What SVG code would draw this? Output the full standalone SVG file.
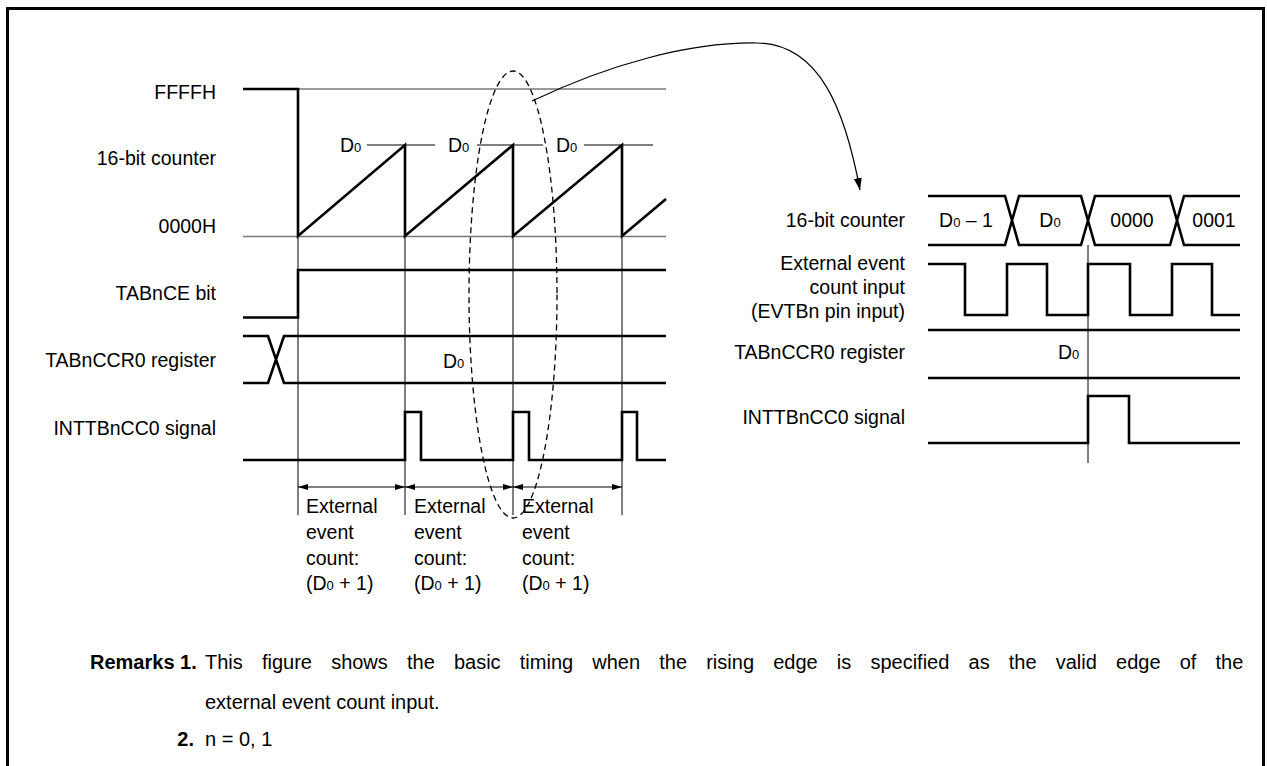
<svg xmlns="http://www.w3.org/2000/svg" width="1267" height="766" viewBox="0 0 1267 766">
<style>
text{font-family:"Liberation Sans",Arial,Helvetica,sans-serif;font-size:19.5px;fill:#000}
.lbl{text-anchor:end}
.sub{font-size:13px}
.sig{fill:none;stroke:#000;stroke-width:2.6;stroke-linejoin:miter}
.thin{fill:none;stroke:#000;stroke-width:1}
.gray{fill:none;stroke:#777;stroke-width:1.5}
.dash{fill:none;stroke:#000;stroke-width:1.3;stroke-dasharray:6 4}
.dim{fill:none;stroke:#000;stroke-width:1;marker-start:url(#ah);marker-end:url(#ah)}
.rm{font-size:20px}
.b{font-weight:bold}
</style>
<defs>
<marker id="ah" viewBox="0 0 10 6" refX="10" refY="3" markerWidth="10" markerHeight="6" markerUnits="userSpaceOnUse" orient="auto-start-reverse">
<path d="M0,0 L10,3 L0,6 Z" fill="#000"/>
</marker>
<marker id="ah2" viewBox="0 0 12 8" refX="12" refY="4" markerWidth="12" markerHeight="8" markerUnits="userSpaceOnUse" orient="auto">
<path d="M0,0 L12,4 L0,8 Z" fill="#000"/>
</marker>
</defs>
<rect width="1267" height="766" fill="#fff"/>
<path d="M7.5,766 V8.5 H1263.5 V766" fill="none" stroke="#000" stroke-width="3"/>

<g id="left-labels">
<text class="lbl" x="216" y="99">FFFFH</text>
<text class="lbl" x="216" y="165">16-bit counter</text>
<text class="lbl" x="216" y="233">0000H</text>
<text class="lbl" x="216" y="300">TABnCE bit</text>
<text class="lbl" x="216" y="367">TABnCCR0 register</text>
<text class="lbl" x="216" y="435">INTTBnCC0 signal</text>
</g>

<g id="left-grid">
<path class="gray" d="M298,89 H666 M243,236.5 H666"/>
<path class="thin" d="M367,145 H435 M477,145 H543 M584,145 H653"/>
<path class="thin" d="M298,236 V515 M405,236 V515 M513,236 V515 M622,236 V515"/>
</g>

<g id="counter-left">
<path class="sig" d="M243,89 H298 V236 L405,145 V236 L513,145 V236 L622,145 V236 L666,199"/>
<text x="340" y="152">D<tspan class="sub">0</tspan></text>
<text x="448" y="152">D<tspan class="sub">0</tspan></text>
<text x="556" y="152">D<tspan class="sub">0</tspan></text>
</g>

<g id="tabce-left">
<path class="sig" d="M243,317.5 H298 V270 H666"/>
</g>

<g id="tabccr0-left">
<path class="sig" d="M243,336 H268 L284,383 H666 M243,383 H268 L284,336 H666"/>
<text x="443" y="368">D<tspan class="sub">0</tspan></text>
</g>

<g id="inttb-left">
<path class="sig" d="M243,460 H405 V412 H421 V460 H513 V412 H529 V460 H622 V412 H637 V460 H666"/>
</g>

<g id="dimensions">
<path class="dim" d="M298,487 H405"/>
<path class="dim" d="M405,487 H513"/>
<path class="dim" d="M513,487 H622"/>
<text x="306" y="513">External</text>
<text x="306" y="539">event</text>
<text x="306" y="565">count:</text>
<text x="306" y="590">(D<tspan class="sub">0</tspan> + 1)</text>
<text x="414" y="513">External</text>
<text x="414" y="539">event</text>
<text x="414" y="565">count:</text>
<text x="414" y="590">(D<tspan class="sub">0</tspan> + 1)</text>
<text x="522" y="513">External</text>
<text x="522" y="539">event</text>
<text x="522" y="565">count:</text>
<text x="522" y="590">(D<tspan class="sub">0</tspan> + 1)</text>
</g>

<g id="connectors">
<ellipse class="dash" cx="513" cy="294.5" rx="44" ry="223.5"/>
<path d="M532,101 C610,64 690,42 757,43 C820,44 845,110 860,190" fill="none" stroke="#000" stroke-width="1.2" marker-end="url(#ah2)"/>
</g>

<g id="right-labels">
<text class="lbl" x="905" y="227">16-bit counter</text>
<text class="lbl" x="905" y="270">External event</text>
<text class="lbl" x="905" y="294">count input</text>
<text class="lbl" x="905" y="318">(EVTBn pin input)</text>
<text class="lbl" x="905" y="359">TABnCCR0 register</text>
<text class="lbl" x="905" y="424">INTTBnCC0 signal</text>
</g>

<g id="counter-right">
<path class="sig" d="M928,196 H1005 L1019,245 H1081 L1095,196 H1170 L1184,245 H1240 M928,245 H1005 L1019,196 H1081 L1095,245 H1170 L1184,196 H1240"/>
<text x="966" y="227" text-anchor="middle">D<tspan class="sub">0</tspan> – 1</text>
<text x="1050" y="227" text-anchor="middle">D<tspan class="sub">0</tspan></text>
<text x="1132" y="227" text-anchor="middle">0000</text>
<text x="1214" y="227" text-anchor="middle">0001</text>
</g>

<g id="evt-right">
<path class="sig" d="M928,264 H965 V315 H1007 V264 H1047 V315 H1088 V264 H1130 V315 H1172 V264 H1212 V315 H1240"/>
</g>

<g id="tabccr0-right">
<path class="sig" d="M928,330 H1240 M928,378 H1240"/>
<text x="1058" y="359">D<tspan class="sub">0</tspan></text>
</g>

<g id="inttb-right">
<path class="sig" d="M928,443 H1088 V396 H1129 V443 H1240"/>
</g>

<g id="right-grid">
<path class="thin" d="M1088,245 V463"/>
</g>

<g id="remarks">
<text class="rm b" x="90" y="669" font-size="19.5">Remarks 1.</text>
<text class="rm" x="205" y="669" word-spacing="13.6">This figure shows the basic timing when the rising edge is specified as the valid edge of the</text>
<text class="rm" x="205" y="709">external event count input.</text>
<text class="rm b" x="194" y="746" text-anchor="end" font-size="19.5">2.</text>
<text class="rm" x="205" y="746">n = 0, 1</text>
</g>
</svg>
